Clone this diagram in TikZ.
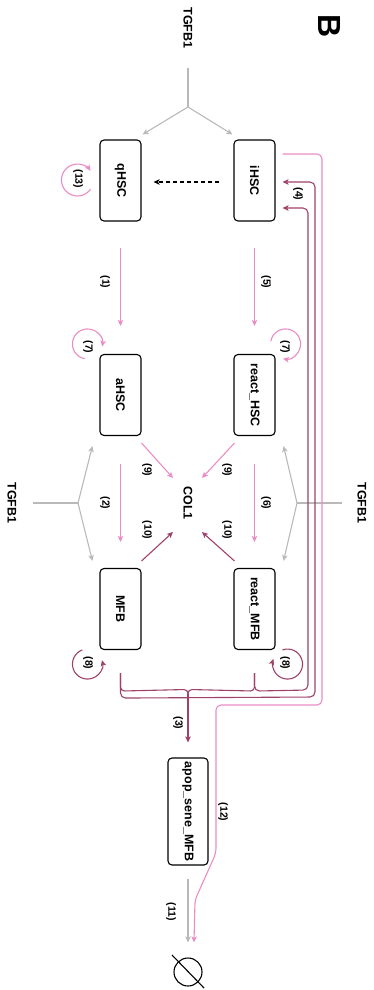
\documentclass[tikz,border=0pt]{standalone}
\usepackage{fontspec}
\setmainfont{Liberation Sans}
\usetikzlibrary{arrows.meta,calc}
\definecolor{pinkc}{RGB}{236,140,196}
\definecolor{darkc}{RGB}{158,66,106}
\definecolor{grayc}{RGB}{185,185,185}
\tikzset{
  box/.style={draw=black, line width=1.1pt, rounded corners=4pt, minimum width=41pt, minimum height=81pt, inner sep=0pt, font=\bfseries\fontsize{12.5}{14}\selectfont},
  lbl/.style={font=\bfseries\fontsize{10.5}{12}\selectfont, rotate=-90, inner sep=0pt},
  big/.style={font=\bfseries\fontsize{12.5}{14}\selectfont, rotate=-90, inner sep=0pt},
  tip/.style={-{Stealth[length=6pt,width=5.5pt,inset=1.5pt]}},
  pinkline/.style={draw=pinkc, line width=1.1pt},
  darkline/.style={draw=darkc, line width=1.1pt},
  grayline/.style={draw=grayc, line width=1.1pt},
}
\begin{document}
\begin{tikzpicture}[x=1pt,y=-1pt]
\useasboundingbox (0,0) rectangle (374,990);
% nodes
\node[box] (qHSC) at (120.5,180.5) {\rotatebox{-90}{qHSC}};
\node[box] (iHSC) at (254.5,180.5) {\rotatebox{-90}{iHSC}};
\node[box] (aHSC) at (120.5,395) {\rotatebox{-90}{aHSC}};
\node[box] (reactHSC) at (254.5,395) {\rotatebox{-90}{react\_HSC}};
\node[box] (MFB) at (120.5,609) {\rotatebox{-90}{MFB}};
\node[box] (reactMFB) at (254.5,609) {\rotatebox{-90}{react\_MFB}};
\node[box, minimum width=40pt, minimum height=107pt] (apop) at (188,811.5) {\rotatebox{-90}{apop\_sene\_MFB}};
\node[big] (COL) at (188,503) {COL1};
\node[big] (Ttop) at (188,28) {TGFB1};
\node[big] (Tleft) at (12,503) {TGFB1};
\node[big] (Tright) at (362,503) {TGFB1};
\node[font=\bfseries\fontsize{32}{34}\selectfont, rotate=-90, inner sep=0pt] (B) at (330,26) {B};
\node[circle, draw=black, line width=1.1pt, minimum size=28pt, inner sep=0pt] (empty) at (188,972) {};
\draw[line width=1.1pt] ($(empty.center)+(-16,-17)$) -- ($(empty.center)+(16,16)$);

% TGFB1 top
\coordinate (tjT) at ($(Ttop)+(0,79)$);
\draw[grayline] ($(Ttop)+(0,40)$) -- (tjT);
\draw[grayline,tip] (tjT) -- ($(qHSC.north east)+(1,-5)$);
\draw[grayline,tip] (tjT) -- ($(iHSC.north west)+(-1,-5)$);
% TGFB1 left
\coordinate (tjL) at ($(Tleft)+(66,0)$);
\draw[grayline] ($(Tleft)+(21,0)$) -- (tjL);
\draw[grayline,tip] (tjL) -- ($(aHSC.south west)+(-7,10)$);
\draw[grayline,tip] (tjL) -- ($(MFB.north west)+(-7,-7)$);
% TGFB1 right
\coordinate (tjR) at ($(Tright)+(-65,0)$);
\draw[grayline] ($(Tright)+(-20,0)$) -- (tjR);
\draw[grayline,tip] (tjR) -- ($(reactHSC.south east)+(8,10)$);
\draw[grayline,tip] (tjR) -- ($(reactMFB.north east)+(8,-7)$);

% dashed
\draw[line width=1.1pt, dash pattern=on 4pt off 3pt, tip] ($(iHSC.west)+(-14,1.5)$) -- ($(qHSC.east)+(12,1.5)$);

% pink vertical transitions
\draw[pinkline,tip] ($(qHSC.south)+(0,26)$) -- ($(aHSC.north)+(0,-28)$);
\draw[pinkline,tip] ($(iHSC.south)+(0,26)$) -- ($(reactHSC.north)+(0,-28)$);
\draw[pinkline,tip] ($(aHSC.south)+(0,28)$) -- ($(MFB.north)+(0,-26)$);
\draw[pinkline,tip] ($(reactHSC.south)+(0,28)$) -- ($(reactMFB.north)+(0,-26)$);
\node[lbl] (l1) at (105,282) {(1)};
\node[lbl] (l5) at (266,282) {(5)};
\node[lbl] (l2) at (105,503) {(2)};
\node[lbl] (l6) at (266,503) {(6)};

% (9) and (10)
\draw[pinkline,tip] ($(aHSC.south east)+(0,7)$) -- ($(COL)+(-15,-25)$);
\draw[pinkline,tip] ($(reactHSC.south west)+(1,7)$) -- ($(COL)+(14,-25)$);
\draw[darkline,tip] ($(MFB.north east)+(0,-7)$) -- ($(COL)+(-15,29)$);
\draw[darkline,tip] ($(reactMFB.north west)+(1,-7)$) -- ($(COL)+(14,29)$);
\node[lbl] (l9a) at (147,470) {(9)};
\node[lbl] (l9b) at (227,470) {(9)};
\node[lbl] (l10a) at (147,530) {(10)};
\node[lbl] (l10b) at (227,530) {(10)};

% self loops
\draw[pinkline,tip] ($(qHSC.west)+(-22,-0.5)$) ++(35:16) arc[start angle=35, end angle=325, radius=16];
\node[lbl] (l13) at (78,179) {(13)};
\draw[pinkline,tip] ($(aHSC.north west)+(-12,-10)$) ++(100:15) arc[start angle=100, end angle=370, radius=15];
\node[lbl] (l7a) at (88,347) {(7)};
\draw[pinkline,tip] ($(reactHSC.north east)+(10,-10)$) ++(190:15) arc[start angle=190, end angle=460, radius=15];
\node[lbl] (l7b) at (285,347) {(7)};
\draw[darkline,tip] ($(MFB.south west)+(-12,14)$) ++(250:15) arc[start angle=250, end angle=-15, radius=15];
\node[lbl] (l8a) at (88,663) {(8)};
\draw[darkline,tip] ($(reactMFB.south east)+(12,14)$) ++(-110:15) arc[start angle=-110, end angle=200, radius=15];
\node[lbl] (l8b) at (285,663) {(8)};

% (3) brace to apop
\coordinate (bj) at ($(apop.north)+(0,-63)$);
\draw[darkline, rounded corners=4pt] ($(MFB.south)+(0,23)$) -- ($(MFB.south)+(0,41)$) -- ($(bj)+(0,-5)$) -- (bj);
\draw[darkline, rounded corners=4pt] ($(reactMFB.south)+(0,23)$) -- ($(reactMFB.south)+(0,41)$) -- ($(bj)+(0,-5)$) -- (bj);
\draw[darkline,tip] (bj) -- ($(apop.north)+(0,-15)$);
\node[lbl] (l3) at (178,723) {(3)};

% (4) to iHSC
\draw[darkline, rounded corners=5pt, tip] ($(MFB.south)+(0,23)$) -- ($(MFB.south)+(0,48)$) -- (315,697) -- (315,182) -- ($(iHSC.east)+(7,1.5)$);
\draw[darkline, rounded corners=5pt, tip] ($(reactMFB.south)+(0,23)$) -- ($(reactMFB.south)+(0,41)$) -- (308,690) -- (308,208) -- ($(iHSC.east)+(7,27.5)$);
\node[lbl] (l4) at (298,194) {(4)};

% (12) pink iHSC -> empty
\draw[pinkline, rounded corners=5pt, tip] ($(iHSC.east)+(7,-26.5)$) -- (322,154) -- (322,705) -- (216,705) -- (216,853) -- (195,900) -- ($(empty.north)+(6,-15)$);
\node[lbl] (l12) at (223,812) {(12)};

% (11) gray apop -> empty
\draw[grayline,tip] ($(apop.south)+(0,13)$) -- ($(empty.north)+(0,-15)$);
\node[lbl] (l11) at (171,912) {(11)};
\end{tikzpicture}
\end{document}
